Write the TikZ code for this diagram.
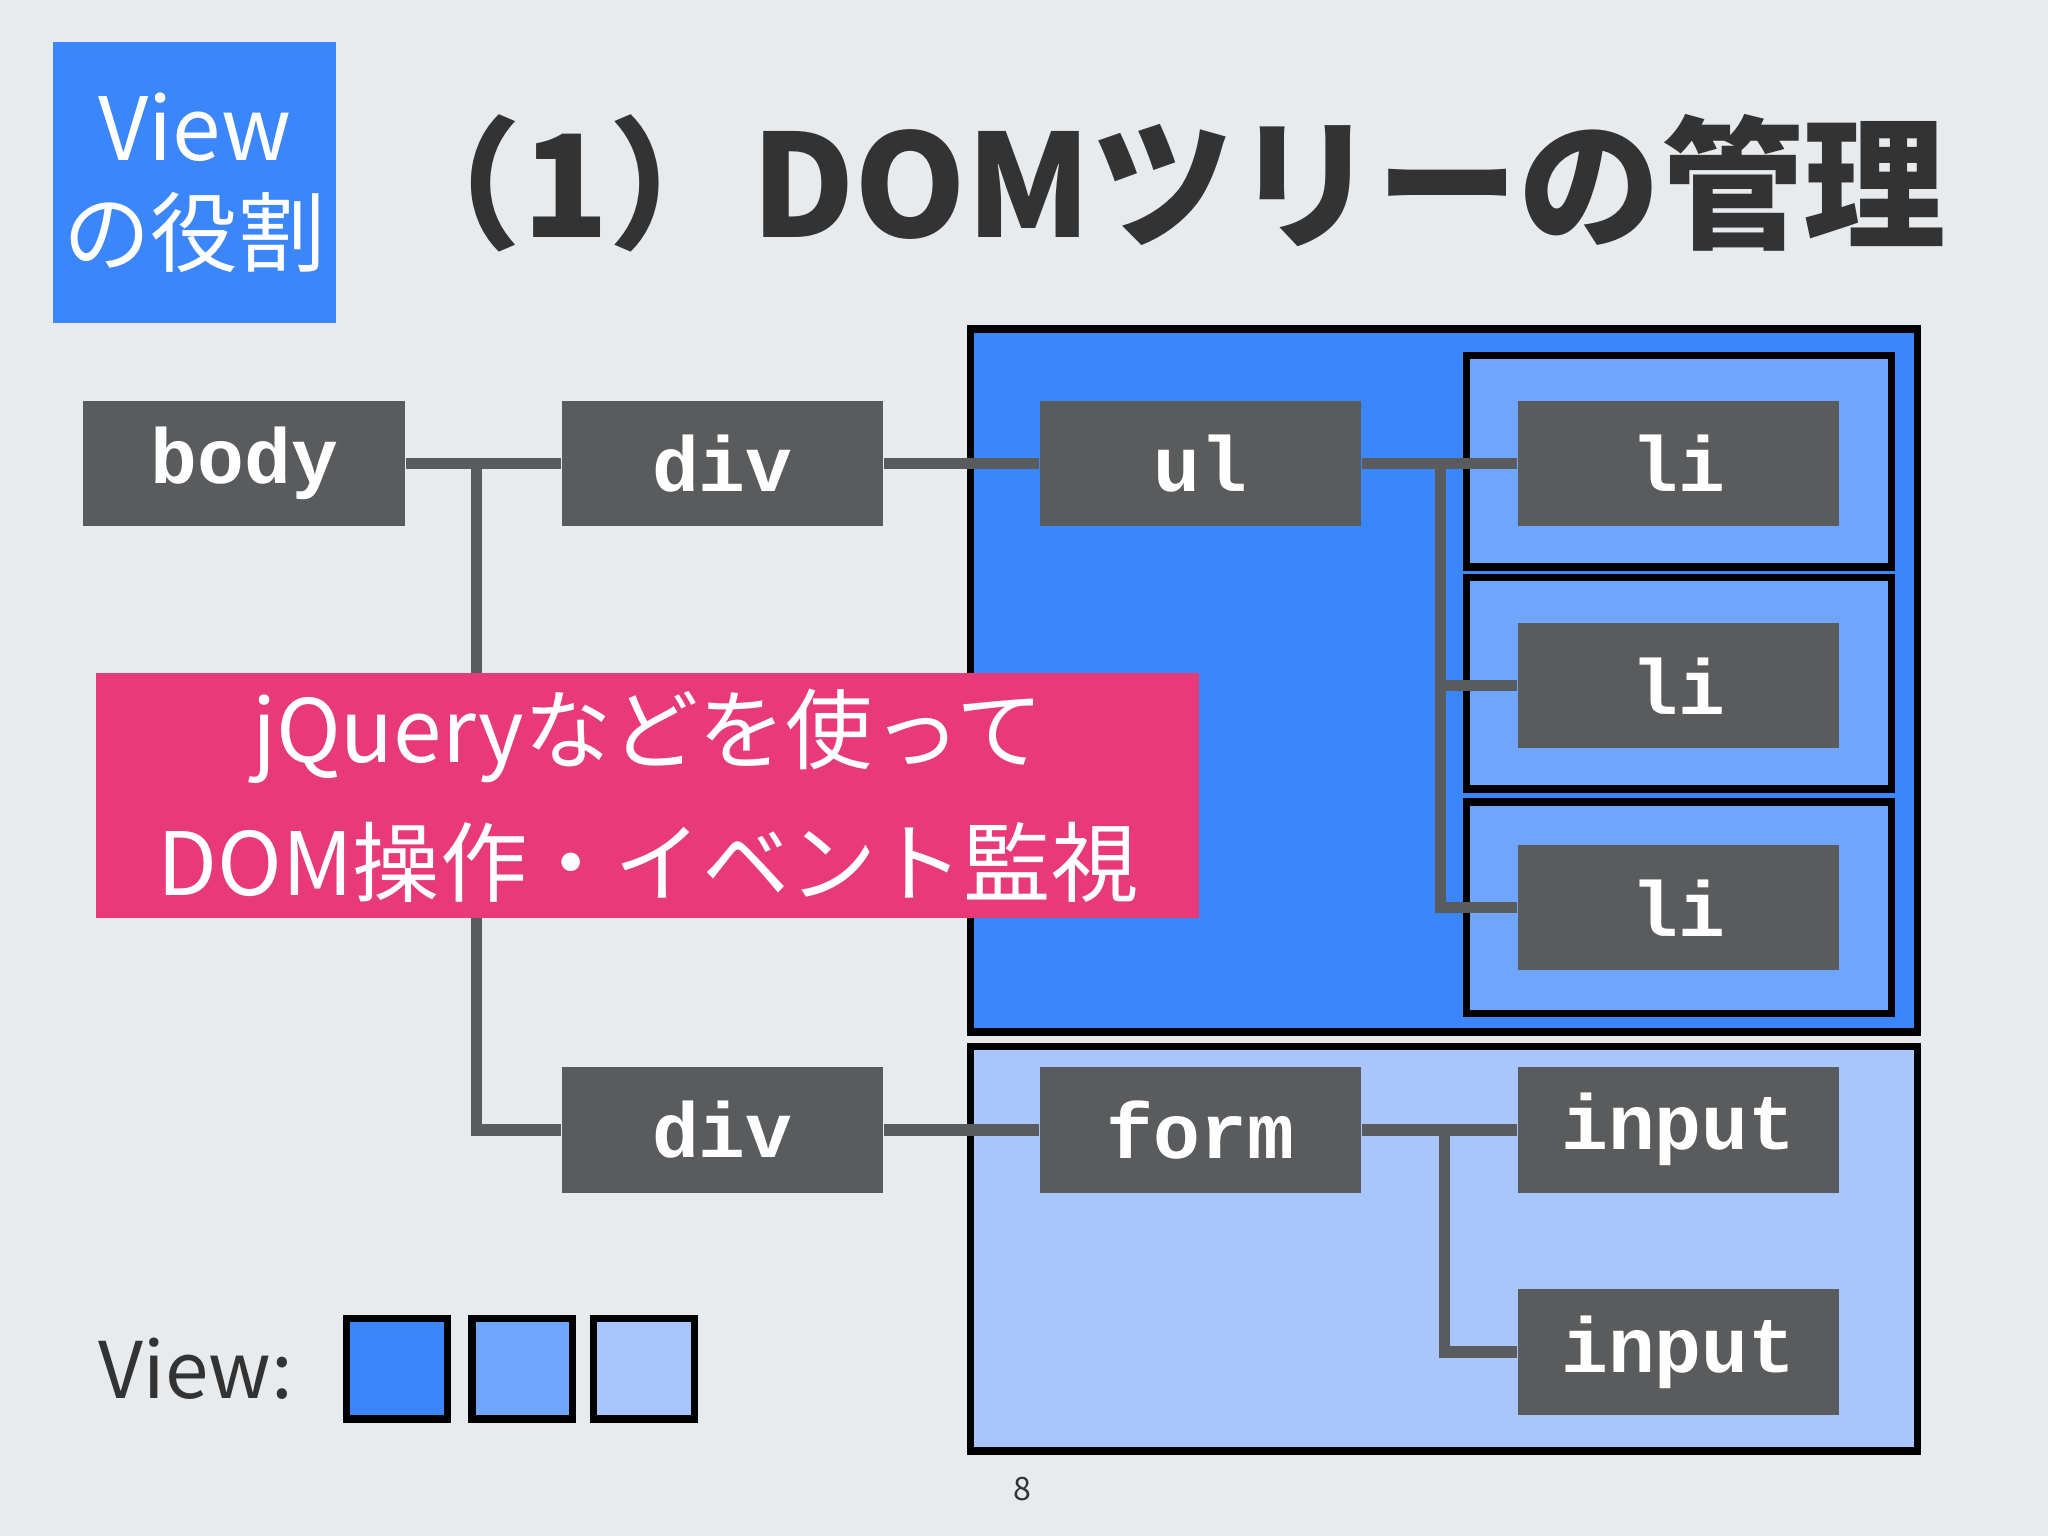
\documentclass[tikz,border=0pt]{standalone}
\usepackage{fontspec}
\setmainfont{Noto Sans CJK JP}
\setmonofont{Liberation Mono}
\usetikzlibrary{positioning}
\definecolor{bgcol}{HTML}{E8EBEE}
\definecolor{viewA}{HTML}{3B86FB}
\definecolor{viewB}{HTML}{6FA6FB}
\definecolor{viewC}{HTML}{A8C6FB}
\definecolor{tagcol}{HTML}{5A5B5C}
\definecolor{pinkcol}{HTML}{E83A78}
\definecolor{txtcol}{HTML}{333333}
\tikzset{
  tag/.style={fill=tagcol,text=white,minimum width=2.46cm,minimum height=0.96cm,
    inner sep=0pt,font=\ttfamily\bfseries\fontsize{17}{17}\selectfont},
  area/.style={draw=black,line width=1.6pt},
  link/.style={draw=tagcol,line width=2.5pt}
}
\begin{document}
\begin{tikzpicture}[x=0.01cm,y=-0.01cm]
        \fill[bgcol] (0,0) rectangle (1568,1176);
        \useasboundingbox (0,0) rectangle (1568,1176);
        % header
        \node[fill=viewA,text=white,minimum width=2.16cm,minimum height=2.15cm,inner sep=0pt,align=center,
          font=\fontsize{19}{23}\selectfont] (badge) at (149,140) {View\\の役割};
        \node[text=txtcol,anchor=west,inner sep=0pt,font=\bfseries\fontsize{31}{31}\selectfont] (title) at (290,140) {（1）DOMツリーの管理};
        % view areas
        \draw[area,fill=viewA] (743,252) rectangle (1468,790);
        \foreach \y in {272,442,614}{
            \draw[area,fill=viewB] (1123,\y) rectangle (1448,\y+162);
        }
        \draw[area,fill=viewC] (743,801) rectangle (1468,1111);
        % tags
        \node[tag] (body) at (187,355) {body};
        \node[tag] (div1) at (553,355) {div};
        \node[tag] (ul) at (919,355) {ul};
        \node[tag] (li1) at (1285,355) {li};
        \node[tag] (li2) at (1285,525) {li};
        \node[tag] (li3) at (1285,695) {li};
        \node[tag] (div2) at (553,865) {div};
        \node[tag] (form) at (919,865) {form};
        \node[tag] (in1) at (1285,865) {input};
        \node[tag] (in2) at (1285,1035) {input};
        % links
        \coordinate (tb) at (365,355);
        \coordinate (tu) at (1103,355);
        \coordinate (tf) at (1106,865);
        \draw[link] (body) -- (div1);
        \draw[link] (tb) |- (div2);
        \draw[link] (div1) -- (ul);
        \draw[link] (ul) -- (li1);
        \draw[link] (tu) |- (li2);
        \draw[link] (tu) |- (li3);
        \draw[link] (div2) -- (form);
        \draw[link] (form) -- (in1);
        \draw[link] (tf) |- (in2);
        % note
        \node[fill=pinkcol,text=white,minimum width=8.44cm,minimum height=1.87cm,inner sep=0pt,align=center,
          font=\fontsize{19}{29}\selectfont] (note) at (496,609) {jQueryなどを使って\\DOM操作・イベント監視};
        % legend
        \node[text=txtcol,font=\fontsize{17}{17}\selectfont] (vlabel) at (150,1048) {View:};
        \node[area,fill=viewA,minimum size=0.77cm] (sqA) at (304,1048) {};
        \node[area,fill=viewB,minimum size=0.77cm] (sqB) at (400,1048) {};
        \node[area,fill=viewC,minimum size=0.77cm] (sqC) at (493,1048) {};
        \node[text=txtcol,font=\scriptsize] (page) at (783,1140) {8};
\end{tikzpicture}
\end{document}
